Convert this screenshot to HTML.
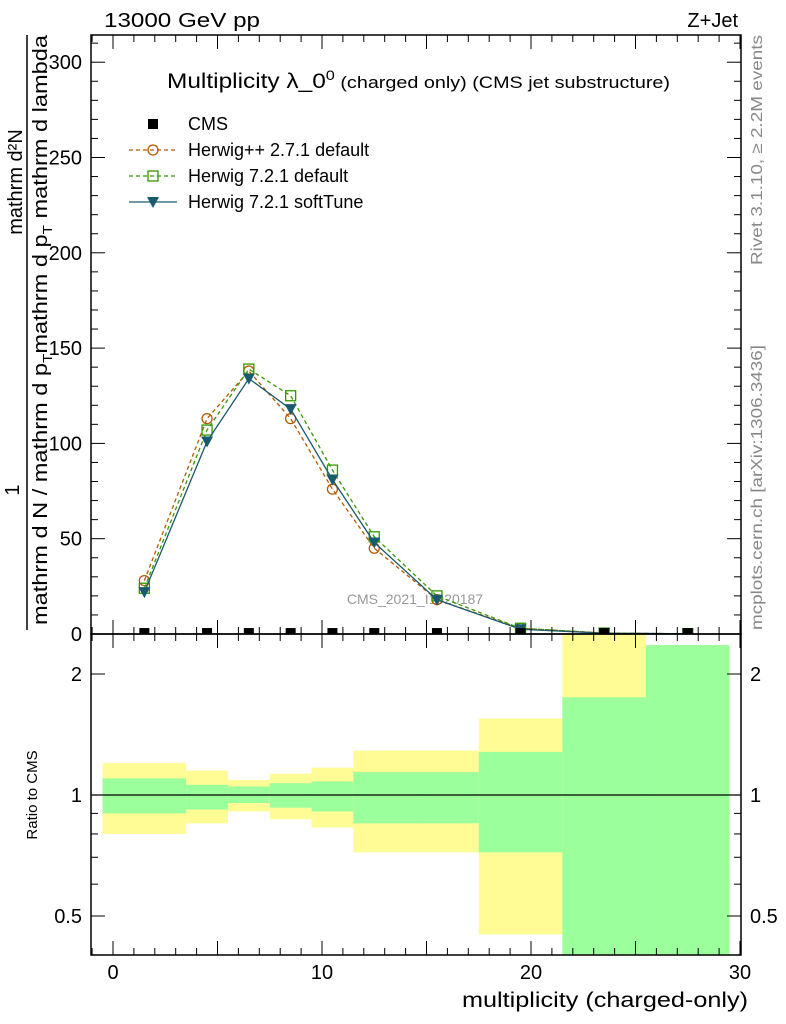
<!DOCTYPE html>
<html><head><meta charset="utf-8"><style>body{margin:0;background:#fff}svg{display:block;font-family:"Liberation Sans",sans-serif}</style></head>
<body>
<svg id="c" width="786" height="1024" xmlns="http://www.w3.org/2000/svg">
<defs><clipPath id="mc"><rect x="91" y="35" width="650" height="599"/></clipPath><clipPath id="rc"><rect x="91" y="634" width="650" height="321"/></clipPath></defs>
<text x="104" y="27" font-size="20" textLength="156" lengthAdjust="spacingAndGlyphs">13000 GeV pp</text>
<text x="738" y="27" font-size="20" text-anchor="end">Z+Jet</text>
<text x="167" y="88" font-size="21" textLength="503" lengthAdjust="spacingAndGlyphs">Multiplicity λ_0<tspan dy="-8" font-size="14">0</tspan><tspan dy="8" font-size="17"> (charged only) (CMS jet substructure)</tspan></text>
<text x="415" y="604" font-size="14" fill="#999" text-anchor="middle">CMS_2021_I1920187</text>
<text transform="translate(762,265) rotate(-90)" font-size="16" fill="#888" textLength="230" lengthAdjust="spacingAndGlyphs">Rivet 3.1.10, ≥ 2.2M events</text>
<text transform="translate(762,630) rotate(-90)" font-size="16" fill="#888" textLength="285" lengthAdjust="spacingAndGlyphs">mcplots.cern.ch [arXiv:1306.3436]</text>
<g font-size="20">
<text transform="translate(22,182) rotate(-90)" text-anchor="middle">mathrm d²N</text>
<line x1="27" y1="35" x2="27" y2="630" stroke="#000" stroke-width="1.5"/>
<text transform="translate(47,625) rotate(-90)" textLength="590" lengthAdjust="spacingAndGlyphs">mathrm d N / mathrm d p<tspan font-size="13" dy="5">T</tspan><tspan dy="-5">mathrm d p</tspan><tspan font-size="13" dy="5">T</tspan><tspan dy="-5"> mathrm d lambda</tspan></text>
<text transform="translate(19,490) rotate(-90)" text-anchor="middle">1</text>
</g>
<text transform="translate(37,795) rotate(-90)" font-size="15" text-anchor="middle">Ratio to CMS</text>
<text x="748" y="1007" font-size="21" text-anchor="end" textLength="286" lengthAdjust="spacingAndGlyphs">multiplicity (charged-only)</text>
<g id="bands" clip-path="url(#rc)"></g>
<g id="main" clip-path="url(#mc)"></g>
<g id="axes"></g>
<g id="legend"></g>
</svg>
<script>
const centers=[1.5,4.5,6.5,8.5,10.5,12.5,15.5,19.5,23.5,27.5];
const edges=[-0.5,3.5,5.5,7.5,9.5,11.5,14.5,17.5,21.5,25.5,29.5];
const cms=[0.5,0.5,0.5,0.5,0.5,0.5,0.5,0.5,0.5,0.5];
const hpp=[28,113,138,113,76,45,18,3,0.5,0.1];
const h721=[24,107,139,125,86,51,20,3,0.5,0.1];
const soft=[22,101,134,118,81,48,18,2.5,0.4,0.1];
const yelHi=[1.20,1.15,1.09,1.13,1.17,1.29,1.29,1.55,3,2.36];
const yelLo=[0.80,0.85,0.91,0.87,0.83,0.72,0.72,0.45,0.3,0.3];
const grnHi=[1.10,1.06,1.05,1.07,1.08,1.14,1.14,1.28,1.75,2.36];
const grnLo=[0.90,0.92,0.955,0.93,0.91,0.85,0.85,0.72,0.3,0.3];
const xTicks=[0,10,20,30];
const yTicks=[0,50,100,150,200,250,300];
const rTicks=[0.5,1,2];
const NS="http://www.w3.org/2000/svg";
const X=v=>113+v*20.9, Y=v=>634-v*1.906, R=v=>795-Math.log2(v)*121;
function mk(t,a,p){const e=document.createElementNS(NS,t);for(const k in a)e.setAttribute(k,a[k]);(p||document.getElementById('axes')).appendChild(e);return e;}
const bands=document.getElementById('bands');
for(let i=0;i<centers.length;i++){
 const x0=X(edges[i]),x1=X(edges[i+1]);
 let r=mk('rect',{x:x0,y:R(yelHi[i]),width:x1-x0,height:R(yelLo[i])-R(yelHi[i]),fill:'#fffb95'},bands);
 
 r=mk('rect',{x:x0,y:R(grnHi[i]),width:x1-x0,height:R(grnLo[i])-R(grnHi[i]),fill:'#9bff9b'},bands);
 
}
let l=mk('line',{x1:91,x2:741,y1:R(1),y2:R(1),stroke:'#000','stroke-width':1.2},bands);

const main=document.getElementById('main');
function series(vals,color,dash,marker,name){
 const g=mk('g',{},main);
 mk('polyline',{points:centers.map((c,i)=>X(c)+','+Y(vals[i])).join(' '),fill:'none',stroke:color,'stroke-width':1.3,'stroke-dasharray':dash},g);
 centers.forEach((c,i)=>{const x=X(c),y=Y(vals[i]);marker(g,x,y,color);});
}
const circ=(g,x,y,c)=>mk('circle',{cx:x,cy:y,r:5,fill:'none',stroke:c,'stroke-width':1.3},g);
const sq=(g,x,y,c)=>mk('rect',{x:x-5,y:y-5,width:10,height:10,fill:'none',stroke:c,'stroke-width':1.3},g);
const tri=(g,x,y,c)=>mk('polygon',{points:`${x-6},${y-5} ${x+6},${y-5} ${x},${y+6}`,fill:c},g);
const fsq=(g,x,y,c)=>mk('rect',{x:x-5,y:y-5,width:10,height:10,fill:c},g);
series(hpp,'#b35a00','4,3',circ,'series-herwigpp-271');
series(h721,'#339900','4,3',sq,'series-herwig-721-default');
series(soft,'#1a5a6e','',tri,'series-herwig-721-softtune');
const cg=mk('g',{},main);
centers.forEach((c,i)=>fsq(cg,X(c),Y(cms[i]),'#000'));
mk('rect',{x:91,y:35,width:650,height:599,fill:'none',stroke:'#000','stroke-width':1.5});
mk('rect',{x:91,y:634,width:650,height:321,fill:'none',stroke:'#000','stroke-width':1.5});
for(let v=-1;v<=30;v++){const big=v%5==0,x=X(v);
 [[634,-1],[35,1],[955,-1],[634,1]].forEach(([y,d])=>mk('line',{x1:x,x2:x,y1:y,y2:y+d*(big?14:7),stroke:'#000'}));}
xTicks.forEach(v=>{const t=mk('text',{x:X(v),y:979,'font-size':20,'text-anchor':'middle'});t.textContent=v;});
for(let v=0;v<=310;v+=10){const big=v%50==0,y=Y(v);
 mk('line',{x1:91,x2:91+(big?14:7),y1:y,y2:y,stroke:'#000'});mk('line',{x1:741,x2:741-(big?14:7),y1:y,y2:y,stroke:'#000'});}
yTicks.forEach(v=>{const t=mk('text',{x:82,y:Y(v)+7,'font-size':20,'text-anchor':'end'});t.textContent=v;});
[0.4,0.5,0.6,0.7,0.8,0.9,1,2].forEach(v=>{const big=rTicks.includes(v),y=R(v);
 mk('line',{x1:91,x2:91+(big?14:7),y1:y,y2:y,stroke:'#000'});mk('line',{x1:741,x2:741-(big?14:7),y1:y,y2:y,stroke:'#000'});});
rTicks.forEach(v=>{[[82,'end'],[750,'start']].forEach(([x,a])=>{const t=mk('text',{x:x,y:R(v)+7,'font-size':20,'text-anchor':a});t.textContent=v;});});
const lg=document.getElementById('legend');
const items=[['CMS','#000','',fsq,false],['Herwig++ 2.7.1 default','#b35a00','4,3',circ,true],['Herwig 7.2.1 default','#339900','4,3',sq,true],['Herwig 7.2.1 softTune','#1a5a6e','',tri,true]];
items.forEach((it,i)=>{const y=124+i*26;const g=mk('g',{},lg);
 if(it[4])mk('line',{x1:129,x2:177,y1:y,y2:y,stroke:it[1],'stroke-width':1.3,'stroke-dasharray':it[2]},g);
 it[3](g,153,y,it[1]);
 const t=mk('text',{x:188,y:y+6,'font-size':18},g);t.textContent=it[0];});
</script>
</body></html>
